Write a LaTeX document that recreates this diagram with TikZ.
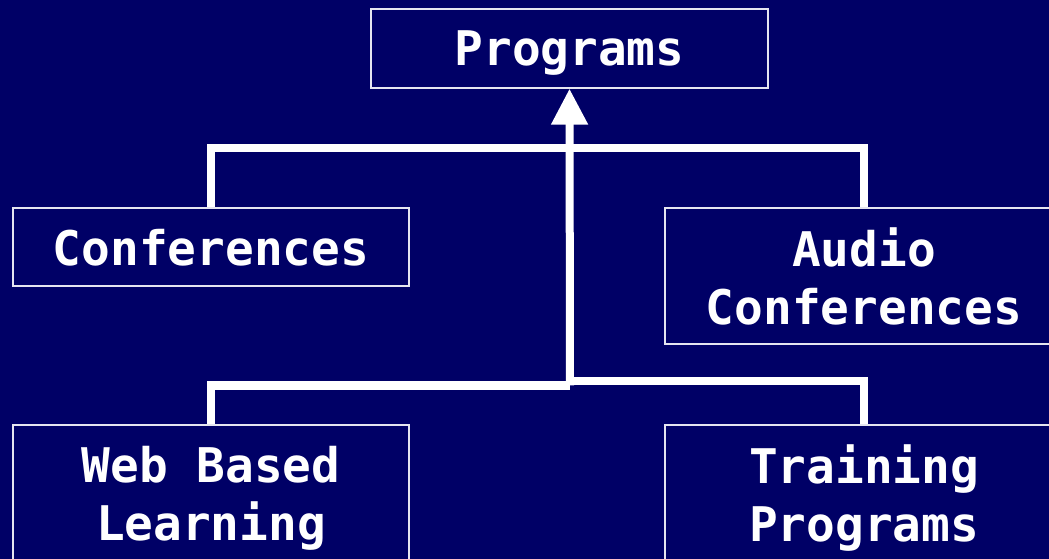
\documentclass[tikz,border=0pt]{standalone}
\usepackage{fontspec}
\newfontfamily\boxfont{DejaVu Sans Mono}
\usetikzlibrary{arrows.meta}
\definecolor{navy}{RGB}{0,0,102}
% keep a line's height but drop its descender, so boxes centre on the capitals
\newcommand\nodesc[1]{\raisebox{0pt}[\height][0pt]{#1}}

\begin{document}
\begin{tikzpicture}[x=0.75pt,y=-0.75pt,
  box/.style={draw=white!90!navy, line width=1pt, text=white,
    font=\boxfont\bfseries\fontsize{35.8pt}{43.5pt}\selectfont,
    align=center, inner sep=0pt},
  bus/.style={draw=white, line width=6pt, line join=miter}]

\useasboundingbox (0,0) rectangle (1049,559);
\fill[navy] (0,0) rectangle (1049,559);
\clip (0,0) rectangle (1049,559);

% boxes
\node[box, minimum width=297.75pt, minimum height=59.25pt] (prog)  at (569.5,48.5) {\nodesc{Programs}};
\node[box, minimum width=297pt,    minimum height=58.5pt]  (conf)  at (211,247)    {\nodesc{Conferences}};
\node[box, minimum width=298.5pt,  minimum height=102pt]   (audio) at (864,276)    {Audio\\\nodesc{Conferences}};
\node[box, minimum width=297pt,    minimum height=102pt]   (web)   at (211,493)    {Web Based\\\nodesc{Learning}};
\node[box, minimum width=298.5pt,  minimum height=102pt]   (train) at (864,493)    {Training\\\nodesc{Programs}};

% bus bars (the lower one steps up slightly right of the trunk)
\coordinate (topbus) at (570,148);
\coordinate (botbusL) at (570,385.5);
\coordinate (botbusR) at (570,381.5);

\draw[bus] (conf.north) |- (topbus) -| (audio.north);
\draw[bus] (web.north) |- (botbusL);
\draw[bus] (botbusR) -| (train.north);
\draw[bus, -{Triangle[width=26.25pt,length=27pt]}] (botbusL) -- (prog.south);
\end{tikzpicture}
\end{document}
